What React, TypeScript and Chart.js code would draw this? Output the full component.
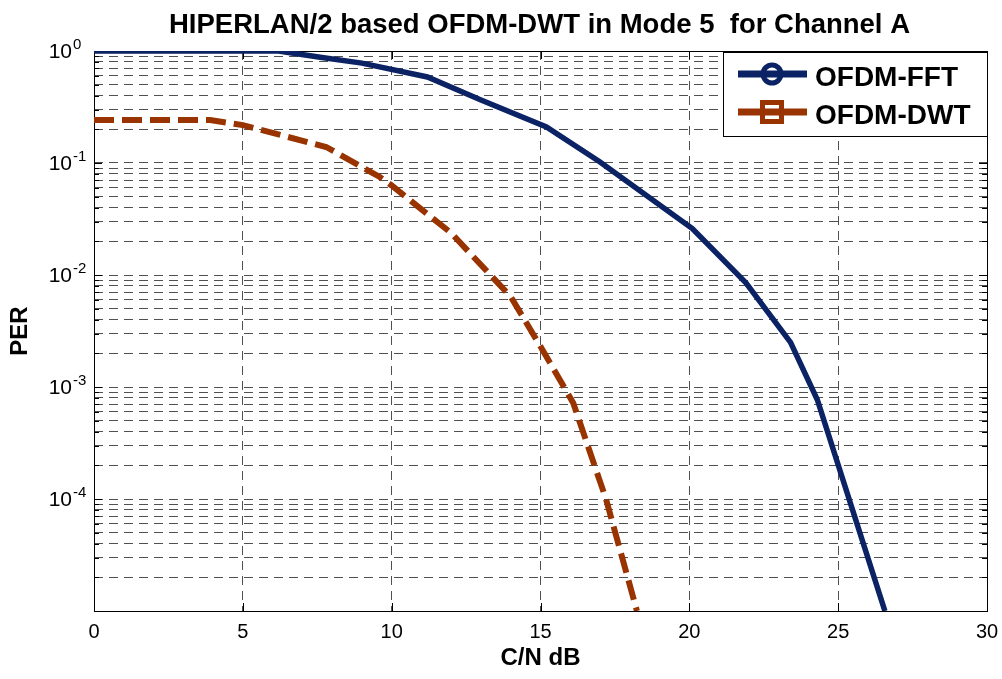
import React, { useEffect, useRef } from 'react';
import { Chart, registerables } from 'chart.js';

Chart.register(...registerables);

// ---------- data ----------
const TITLE = 'HIPERLAN/2 based OFDM-DWT in Mode 5  for Channel A';
const X_LABEL = 'C/N dB';
const Y_LABEL = 'PER';
const SERIES_NAMES = ['OFDM-FFT', 'OFDM-DWT'];

const fftX = [0, 6.2, 7.6, 9.0, 11.2, 13.0, 15.2, 17.0, 20.1, 21.9, 23.4, 24.3, 26.57];
const fftY = [1, 1, 0.88, 0.78, 0.586, 0.365, 0.21, 0.102, 0.026, 0.0085, 0.0025, 0.00077, 0.00001];

const dwtX = [0, 3.9, 5.0, 7.8, 9.6, 10.0, 12.0, 14.0, 15.0, 16.1, 17.2, 18.24];
const dwtY = [0.242, 0.242, 0.218, 0.139, 0.075, 0.063, 0.0237, 0.0064, 0.0023, 0.00072, 0.0001, 0.00001];

const X_TICKS = [0, 5, 10, 15, 20, 25, 30];
const Y_EXPONENTS = [0, -1, -2, -3, -4, -5];
const Y_LABEL_EXPONENTS = [0, -1, -2, -3, -4];
const MINOR_MULTS = [2, 3, 4, 5, 6, 7, 8, 9];

// ---------- styles ----------
const FFT_COLOR = '#0b2264';
const DWT_COLOR = '#993300';
const GRID_COLOR = '#505050';
const FONT = "'Liberation Sans', Arial, Helvetica, sans-serif";

function yTickValues(): number[] {
  const out: number[] = [];
  Y_EXPONENTS.forEach((e) => {
    out.push(Math.pow(10, e));
    if (e < 0) MINOR_MULTS.forEach((m) => out.push(m * Math.pow(10, e)));
  });
  return out;
}

function txt(ctx: CanvasRenderingContext2D, s: string, x: number, y: number, font: string, align: CanvasTextAlign) {
  ctx.save();
  ctx.font = font;
  ctx.textAlign = align;
  ctx.textBaseline = 'alphabetic';
  ctx.fillStyle = '#000';
  ctx.fillText(s, x, y);
  ctx.restore();
}

const decorPlugin = {
  id: 'decor',
  beforeDatasetsDraw(chart: any) {
    const { ctx, chartArea: a } = chart;
    ctx.save();
    ctx.strokeStyle = '#000';
    ctx.lineWidth = 1;
    ctx.setLineDash([]);
    ctx.strokeRect(Math.round(a.left) + 0.5, Math.round(a.top) + 0.5, Math.round(a.right - a.left), Math.round(a.bottom - a.top));
    // tick marks (inward)
    const xs = chart.scales.x;
    const ys = chart.scales.y;
    ctx.beginPath();
    X_TICKS.forEach((v) => {
      const px = Math.round(xs.getPixelForValue(v)) + 0.5;
      ctx.moveTo(px, a.bottom);
      ctx.lineTo(px, a.bottom - 8);
      ctx.moveTo(px, a.top);
      ctx.lineTo(px, a.top + 8);
    });
    yTickValues().forEach((v) => {
      const major = Math.abs(Math.log10(v) - Math.round(Math.log10(v))) < 1e-9;
      const len = major ? 8 : 5;
      const py = Math.round(ys.getPixelForValue(v)) + 0.5;
      ctx.moveTo(a.left, py);
      ctx.lineTo(a.left + len, py);
      ctx.moveTo(a.right, py);
      ctx.lineTo(a.right - len, py);
    });
    ctx.stroke();
    ctx.restore();
  },
  afterDraw(chart: any) {
    const { ctx, chartArea: a } = chart;
    const xs = chart.scales.x;
    const ys = chart.scales.y;
    const cx = (a.left + a.right) / 2;
    // title
    txt(ctx, TITLE, cx - 1, 33, `bold 27.5px ${FONT}`, 'center');
    // x ticks
    X_TICKS.forEach((v) => {
      txt(ctx, String(v), xs.getPixelForValue(v), 638, `20px ${FONT}`, 'center');
    });
    // y ticks with superscript exponents
    Y_LABEL_EXPONENTS.forEach((e) => {
      const py = ys.getPixelForValue(Math.pow(10, e));
      txt(ctx, '10', 72, py + 7, `21px ${FONT}`, 'right');
      txt(ctx, String(e), 73, py - 2, `15px ${FONT}`, 'left');
    });
    // axis labels
    txt(ctx, X_LABEL, cx, 665, `bold 24px ${FONT}`, 'center');
    ctx.save();
    ctx.translate(27, (a.top + a.bottom) / 2);
    ctx.rotate(-Math.PI / 2);
    txt(ctx, Y_LABEL, 0, 0, `bold 24px ${FONT}`, 'center');
    ctx.restore();
    // legend
    const bx = 723, by = 52, bw = 987 - 723, bh = 136 - 52;
    ctx.save();
    ctx.fillStyle = '#fff';
    ctx.fillRect(bx, by, bw, bh);
    ctx.strokeStyle = '#000';
    ctx.lineWidth = 1;
    ctx.strokeRect(bx + 0.5, by + 0.5, bw, bh);
    const rows = [
      { name: SERIES_NAMES[0], color: FFT_COLOR, y: 74, marker: 'circle' },
      { name: SERIES_NAMES[1], color: DWT_COLOR, y: 112, marker: 'square' },
    ];
    rows.forEach((r) => {
      ctx.strokeStyle = r.color;
      ctx.lineWidth = 7;
      ctx.setLineDash([]);
      ctx.beginPath();
      ctx.moveTo(738, r.y);
      ctx.lineTo(807, r.y);
      ctx.stroke();
      ctx.lineWidth = 5;
      ctx.beginPath();
      if (r.marker === 'circle') {
        ctx.arc(772, r.y, 9, 0, Math.PI * 2);
      } else {
        ctx.rect(772 - 9.5, r.y - 9.5, 19, 19);
      }
      ctx.stroke();
      txt(ctx, r.name, 815, r.y + 12, `bold 28px ${FONT}`, 'left');
    });
    ctx.restore();
  },
};

export default function App() {
  const ref = useRef<HTMLCanvasElement | null>(null);
  useEffect(() => {
    if (!ref.current) return;
    const chart = new Chart(ref.current, {
      type: 'line',
      data: {
        datasets: [
          {
            label: SERIES_NAMES[0],
            data: fftX.map((x, i) => ({ x, y: fftY[i] })),
            borderColor: FFT_COLOR,
            backgroundColor: FFT_COLOR,
            borderWidth: 5.5,
            pointRadius: 0,
            tension: 0,
            fill: false,
          },
          {
            label: SERIES_NAMES[1],
            data: dwtX.map((x, i) => ({ x, y: dwtY[i] })),
            borderColor: DWT_COLOR,
            backgroundColor: DWT_COLOR,
            borderWidth: 6,
            borderDash: [20, 8],
            pointRadius: 0,
            tension: 0,
            fill: false,
          },
        ],
      },
      options: {
        animation: false,
        responsive: false,
        maintainAspectRatio: false,
        devicePixelRatio: 1,
        layout: { padding: { left: 94, right: 15, top: 51, bottom: 68 } },
        plugins: {
          legend: { display: false },
          title: { display: false },
          tooltip: { enabled: false },
        },
        scales: {
          x: {
            type: 'linear',
            min: 0,
            max: 30,
            afterBuildTicks: (s: any) => {
              s.ticks = X_TICKS.map((v) => ({ value: v }));
            },
            ticks: { display: false },
            grid: { color: GRID_COLOR, lineWidth: 1, drawTicks: false },
            border: { display: false, dash: [9, 6] },
          },
          y: {
            type: 'logarithmic',
            min: 1e-5,
            max: 1,
            afterBuildTicks: (s: any) => {
              s.ticks = yTickValues().map((v) => ({ value: v }));
            },
            ticks: { display: false },
            grid: { color: GRID_COLOR, lineWidth: 1, drawTicks: false },
            border: { display: false, dash: [9, 6] },
          },
        },
      } as any,
      plugins: [decorPlugin],
    });
    return () => chart.destroy();
  }, []);
  return (
    <div style={{ position: 'absolute', left: 0, top: 0, width: 1002, height: 679, background: '#fff' }}>
      <canvas ref={ref} width={1002} height={679} style={{ display: 'block' }} />
    </div>
  );
}
